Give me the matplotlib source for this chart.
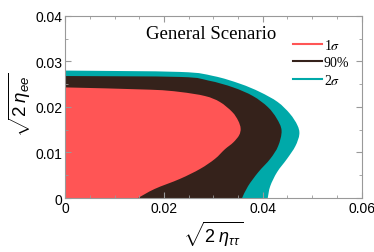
import matplotlib
matplotlib.use("Agg")
import matplotlib.pyplot as plt
from matplotlib.path import Path
from matplotlib.patches import PathPatch

plt.rcParams['mathtext.fontset'] = 'custom'
plt.rcParams['mathtext.rm'] = 'Liberation Sans'
plt.rcParams['mathtext.it'] = 'Liberation Sans:italic'

# contour boundaries, sqrt(2 eta_tautau) vs sqrt(2 eta_ee), top-left -> bottom
teal_x = [0, 0.0232, 0.0300, 0.0354, 0.0394, 0.0430, 0.0455, 0.0470, 0.0474, 0.0466, 0.0449, 0.0429, 0.0415, 0.0410]
teal_y = [0.0280, 0.0277, 0.0268, 0.0251, 0.0233, 0.0211, 0.0185, 0.0160, 0.0140, 0.0114, 0.0086, 0.0057, 0.0026, 0.0]

brown_x = [0, 0.0232, 0.0290, 0.0340, 0.0380, 0.0410, 0.0428, 0.0438, 0.0431, 0.0415, 0.0391, 0.0370, 0.0358]
brown_y = [0.0268, 0.0266, 0.0258, 0.0243, 0.0224, 0.0200, 0.0175, 0.0148, 0.0114, 0.0086, 0.0057, 0.0026, 0.0]

red_x = [0, 0.0172, 0.0232, 0.0283, 0.0313, 0.0338, 0.0350, 0.0355, 0.0352, 0.0340, 0.0323, 0.0303, 0.0273, 0.0232, 0.0181, 0.0147]
red_y = [0.0243, 0.0238, 0.0233, 0.0224, 0.0211, 0.0189, 0.0170, 0.0153, 0.0138, 0.0122, 0.0107, 0.0086, 0.0064, 0.0042, 0.0020, 0.0]

labels = [r'1$\sigma$', '90%', r'2$\sigma$']
colors = ['#ff5555', '#35221b', '#00a9a9']


def smooth_region(xs, ys):
    # closed region x in [0, boundary]; boundary drawn as Catmull-Rom bezier
    pts = list(zip(xs, ys))
    verts = [(0, 0), (0, ys[0]), pts[0]]
    codes = [Path.MOVETO, Path.LINETO, Path.LINETO]
    n = len(pts)
    for i in range(n - 1):
        p0 = pts[max(i - 1, 0)]
        p1 = pts[i]
        p2 = pts[i + 1]
        p3 = pts[min(i + 2, n - 1)]
        c1 = (p1[0] + (p2[0] - p0[0]) / 6, p1[1] + (p2[1] - p0[1]) / 6)
        c2 = (p2[0] - (p3[0] - p1[0]) / 6, p2[1] - (p3[1] - p1[1]) / 6)
        verts += [c1, c2, p2]
        codes += [Path.CURVE4] * 3
    verts += [(0, 0)]
    codes += [Path.CLOSEPOLY]
    return Path(verts, codes)


fig = plt.figure(figsize=(3.74, 2.53), dpi=100)
ax = fig.add_axes([0.175, 0.2134, 0.7916, 0.7196])

for bx, by, c in [(teal_x, teal_y, colors[2]), (brown_x, brown_y, colors[1]), (red_x, red_y, colors[0])]:
    ax.add_patch(PathPatch(smooth_region(bx, by), facecolor=c, lw=0))

for lab, c in zip(labels, colors):
    ax.plot([], [], color=c, lw=1.5, label=lab)

ax.set_xlim(0, 0.06)
ax.set_ylim(0, 0.04)
ax.set_xticks([0, 0.02, 0.04, 0.06])
ax.set_xticklabels(['0', '0.02', '0.04', '0.06'])
ax.set_xticks([0.005 * i for i in range(13)], minor=True)
ax.set_yticks([0, 0.01, 0.02, 0.03, 0.04])
ax.set_yticklabels(['0', '0.01', '0.02', '0.03', '0.04'])
ax.set_yticks([0.005 * i for i in range(9)], minor=True)
ax.tick_params(which='both', direction='in', top=True, right=True, color='#999999', labelsize=10, pad=2)
ax.tick_params(which='major', length=4)
ax.tick_params(which='minor', length=2)
for t in ax.get_xticklabels() + ax.get_yticklabels():
    t.set_fontfamily('Liberation Sans')
for s in ax.spines.values():
    s.set_color('#999999')
    s.set_linewidth(0.8)

ax.set_xlabel(r'$\sqrt{2\;\eta_{\tau\tau}}$', fontsize=13, labelpad=3)
ax.set_ylabel(r'$\sqrt{2\;\eta_{ee}}$', fontsize=13.5)
ax.yaxis.set_label_coords(-0.108, 0.52)

ax.text(0.0295, 0.0362, 'General Scenario', ha='center', va='center',
        fontsize=13.5, family='Liberation Serif')

leg = ax.legend(loc='upper right', bbox_to_anchor=(1.0, 0.95), frameon=False,
                prop=dict(family='Liberation Serif', size=10, math_fontfamily='stix'),
                handlelength=2.1, handletextpad=0.1, labelspacing=0.3, borderaxespad=0.5)

fig.savefig('out.png', dpi=100)
